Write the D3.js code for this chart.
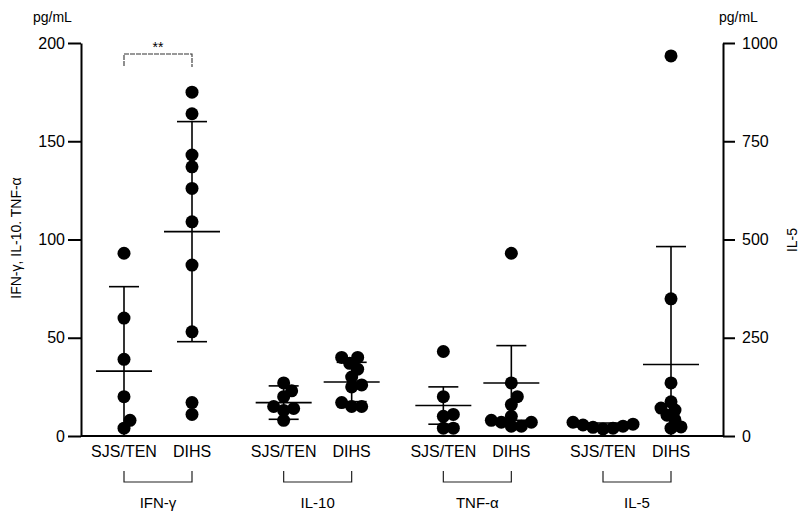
<!DOCTYPE html>
<html lang='en'>
<head>
   <meta charset='UTF-8'>
   <title>Cytokines - dot plot</title>
   <script src='https://d3js.org/d3.v7.min.js'></script>
   <style>
      body { margin: 0; background: #fff; }
      svg { display: block; font-family: 'Liberation Sans', Arial, sans-serif; }
      .axis path, .axis line { stroke: #000; stroke-width: 2; }
      .axis text { font-size: 16px; fill: #000; }
   </style>
</head>
<body>
   <div id='chart'></div>
   <script>
      // categories
      const groups = ['IFN-γ', 'IL-10', 'TNF-α', 'IL-5'];
      const subgroups = ['SJS/TEN', 'DIHS'];

      // values (pg/mL), IL-5 on the right axis
      const ifnSjs = [93, 60, 39, 20, 8, 4];
      const ifnDihs = [175, 164, 143, 137, 126, 109, 87, 53, 17, 11];
      const il10Sjs = [27, 23, 20, 15, 14, 13, 8];
      const il10Dihs = [40, 40, 37, 34, 30, 26, 25, 17, 15, 15];
      const tnfSjs = [43, 20, 11, 10, 4, 4];
      const tnfDihs = [93, 27, 20, 16, 10, 8, 7, 7, 5, 5];
      const il5Sjs = [35, 30, 28, 25, 22, 20, 18];
      const il5Dihs = [967, 349, 135, 87, 71, 66, 53, 41, 23, 20];

      // mean and SD per group, in the same order as the series
      const means = [33, 104, 17, 27.5, 15.5, 27, 23, 182];
      const sds = [43, 56, 8.5, 10, 9.5, 19, 10, 300];

      const leftTicks = [0, 50, 100, 150, 200];
      const rightTicks = [0, 250, 500, 750, 1000];

      const series = [ifnSjs, ifnDihs, il10Sjs, il10Dihs, tnfSjs, tnfDihs, il5Sjs, il5Dihs];

      const W = 801, H = 513;
      const svg = d3.select('#chart').append('svg').attr('width', W).attr('height', H);

      const yL = d3.scaleLinear().domain([0, 200]).range([436, 43]);
      const yR = d3.scaleLinear().domain([0, 1000]).range([436, 43]);
      const xG = d3.scalePoint().domain(groups).range([158, 637]);
      const xS = d3.scalePoint().domain(subgroups).range([-34, 34]);

      // axes
      svg.append('g').attr('class', 'axis').attr('transform', 'translate(81,0)')
         .call(d3.axisLeft(yL).tickValues(leftTicks).tickSize(13).tickSizeOuter(0).tickPadding(3));
      svg.append('g').attr('class', 'axis').attr('transform', 'translate(723,0)')
         .call(d3.axisRight(yR).tickValues(rightTicks).tickFormat(d3.format('d'))
            .tickSize(12).tickSizeOuter(0).tickPadding(7));
      svg.append('line').attr('x1', 81).attr('x2', 723).attr('y1', yL(0)).attr('y2', yL(0))
         .attr('stroke', '#000').attr('stroke-width', 2);

      // unit labels and axis titles
      svg.append('text').attr('x', 33).attr('y', 22).attr('font-size', 14).text('pg/mL');
      svg.append('text').attr('x', 719).attr('y', 22).attr('font-size', 14).text('pg/mL');
      svg.append('text').attr('transform', 'translate(21,238) rotate(-90)').attr('text-anchor', 'middle')
         .attr('font-size', 14).text('IFN-γ, IL-10. TNF-α');
      svg.append('text').attr('transform', 'translate(797,240) rotate(-90)').attr('text-anchor', 'middle')
         .attr('font-size', 14).text('IL-5');

      const dotR = 6.5;

      // simple beeswarm so overlapping dots get pushed sideways
      function swarm(values, y, cx) {
         const placed = [];
         values.slice().sort((a, b) => a - b).forEach(v => {
            const cy = y(v);
            let dx = 0;
            for (let k = 0; k < 40; k++) {
               const cand = k === 0 ? 0 : (k % 2 ? 1 : -1) * Math.ceil(k / 2) * 2;
               const ok = placed.every(p => Math.hypot(p.x - (cx + cand), p.y - cy) >= 9);
               if (ok) { dx = cand; break; }
            }
            placed.push({ x: cx + dx, y: cy });
         });
         return placed;
      }

      series.forEach((vals, i) => {
         const g = groups[Math.floor(i / 2)];
         const s = subgroups[i % 2];
         const cx = xG(g) + xS(s);
         const y = g === 'IL-5' ? yR : yL;

         // mean +/- SD
         const top = y(means[i] + sds[i]);
         const low = y(Math.max(0, means[i] - sds[i]));
         const eb = svg.append('g').attr('stroke', '#000').attr('stroke-width', 1.6);
         eb.append('line').attr('x1', cx).attr('x2', cx).attr('y1', top).attr('y2', low);
         eb.append('line').attr('x1', cx - 15).attr('x2', cx + 15).attr('y1', top).attr('y2', top);
         if (means[i] - sds[i] > 0)
            eb.append('line').attr('x1', cx - 15).attr('x2', cx + 15).attr('y1', low).attr('y2', low);
         eb.append('line').attr('x1', cx - 28).attr('x2', cx + 28).attr('y1', y(means[i])).attr('y2', y(means[i]));

         svg.append('g').selectAll('circle').data(swarm(vals, y, cx)).join('circle')
            .attr('cx', d => d.x).attr('cy', d => d.y).attr('r', dotR).attr('fill', '#000');

         // subgroup label
         svg.append('text').attr('x', cx).attr('y', 457).attr('text-anchor', 'middle')
            .attr('font-size', 16).text(s);
      });

      // group brackets and labels
      groups.forEach(g => {
         const x0 = xG(g) + xS('SJS/TEN'), x1 = xG(g) + xS('DIHS');
         svg.append('path').attr('d', `M${x0},471V482H${x1}V471`).attr('fill', 'none')
            .attr('stroke', '#222').attr('stroke-width', 1.2);
         svg.append('text').attr('x', xG(g)).attr('y', 508).attr('text-anchor', 'middle')
            .attr('font-size', 15).text(g);
      });

      // significance bracket
      const sx0 = xG('IFN-γ') + xS('SJS/TEN'), sx1 = xG('IFN-γ') + xS('DIHS');
      svg.append('path').attr('d', `M${sx0},66V54H${sx1}V67`).attr('fill', 'none')
         .attr('stroke', '#333').attr('stroke-width', 1.1).attr('stroke-dasharray', '5,1');
      svg.append('text').attr('x', (sx0 + sx1) / 2).attr('y', 52).attr('text-anchor', 'middle')
         .attr('font-size', 14).text('**');
   </script>
</body>
</html>
